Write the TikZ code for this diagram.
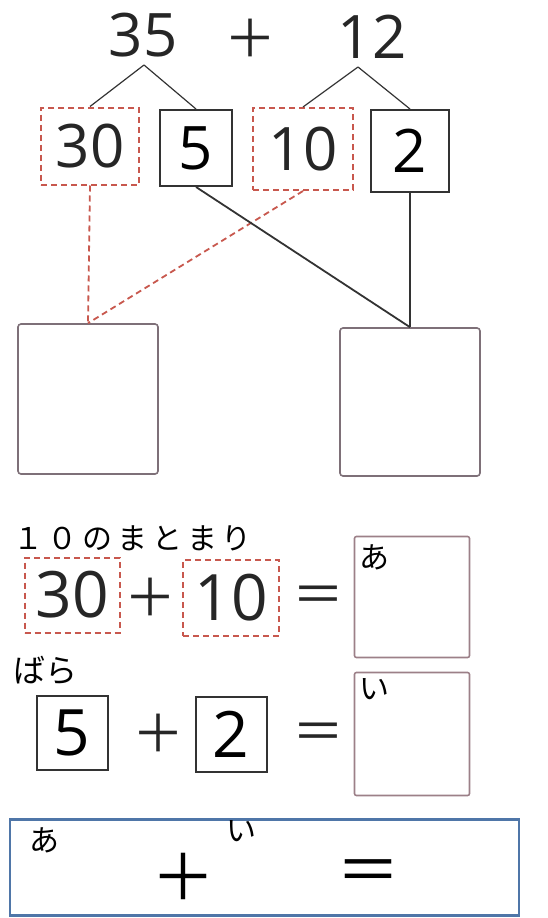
\documentclass[tikz,border=0pt]{standalone}
\usepackage{fontspec}
\setmainfont{Open Sans}
\newfontfamily\jp{Noto Sans CJK JP}
\definecolor{reddash}{HTML}{C8584E}
\definecolor{boxgray}{HTML}{7E7078}
\definecolor{anspink}{HTML}{9C8088}
\definecolor{frameblue}{HTML}{4F76A8}
\tikzset{
  num/.style={inner sep=0pt, font=\fontsize{60}{62}\selectfont, text=black!85},
  numbox/.style={draw=black!80, line width=2pt, inner sep=0pt},
  redbox/.style={draw=reddash, dash pattern=on 6pt off 4pt, line width=2pt, inner sep=0pt},
  bigbox/.style={draw=boxgray, line width=1.6pt, rounded corners=3pt, inner sep=0pt},
  ansbox/.style={draw=anspink, line width=1.6pt, rounded corners=2pt, inner sep=0pt},
  conn/.style={line width=1.2pt, draw=black!80},
  redconn/.style={line width=1.8pt, draw=reddash, dash pattern=on 6pt off 4pt},
  op/.style={inner sep=0pt, font=\jp\fontsize{52}{54}\selectfont, text=black!85},
  kana/.style={inner sep=0pt, font=\jp\fontsize{30}{32}\selectfont},
}
\begin{document}
\begin{tikzpicture}[x=1pt,y=-1pt]
\useasboundingbox (0,0) rectangle (547,918);
\fill[white] (0,0) rectangle (547,918);
% top expression
\node[num] (n35) at (143,35) {35};
\node[op] (p0) at (250,38) {＋};
\node[num] (n12) at (372,37) {12};
\coordinate (a35) at (144,65);
\coordinate (a12) at (358,67);
% boxes row
\node[redbox, minimum width=98pt, minimum height=77pt] (b30) at (90,146) {};
\node[num] at (b30) {30};
\node[numbox, minimum width=72pt, minimum height=76pt] (b5) at (196,148) {\fontsize{60}{62}\selectfont 5};
\node[redbox, minimum width=100pt, minimum height=82pt] (b10) at (303,149) {};
\node[num] at (b10) {10};
\node[numbox, minimum width=78pt, minimum height=82pt] (b2) at (410,151) {\fontsize{60}{62}\selectfont 2};
\draw[conn] (a35) -- (b30.north);
\draw[conn] (a35) -- (b5.north);
\draw[conn] (a12) -- (b10.north);
\draw[conn] (a12) -- (b2.north);
% big boxes
\node[bigbox, minimum width=140pt, minimum height=150pt] (L) at (88,399) {};
\node[bigbox, minimum width=140pt, minimum height=148pt] (R) at (410,402) {};
\draw[redconn] (b30.south) -- (L.north);
\draw[redconn] (b10.south) -- (L.north);
\draw[conn, line width=1.8pt] (b5.south) -- (R.north);
\draw[conn, line width=1.8pt] (b2.south) -- (R.north);
% 10 no matomari
\node[anchor=west, inner sep=0pt, font=\jp\fontsize{30}{32}\selectfont\addfontfeatures{LetterSpace=16}] (t1) at (13,538) {１０のまとまり};
\node[redbox, minimum width=95pt, minimum height=75pt] (c30) at (72,595) {};
\node[num, font=\fontsize{64}{66}\selectfont] at (c30) {30};
\node[op] (p1) at (150,597) {＋};
\node[redbox, minimum width=96pt, minimum height=76pt] (c10) at (231,598) {};
\node[num, font=\fontsize{64}{66}\selectfont] at (c10) {10};
\node[op] (e1) at (318,600) {＝};
\node[ansbox, minimum width=115pt, minimum height=121pt] (ansA) at (412,597) {};
\node[kana] (kA) at (374,557) {あ};
% bara
\node[anchor=west, inner sep=0pt, font=\jp\fontsize{32}{34}\selectfont\addfontfeatures{LetterSpace=2}] (t2) at (13,670) {ばら};
\node[numbox, minimum width=71pt, minimum height=74pt] (c5) at (72,733) {\fontsize{64}{66}\selectfont 5};
\node[op] (p2) at (158,733) {＋};
\node[numbox, minimum width=71pt, minimum height=75pt] (c2) at (231,734) {\fontsize{64}{66}\selectfont 2};
\node[op] (e2) at (318,737) {＝};
\node[ansbox, minimum width=115pt, minimum height=123pt] (ansI) at (412,734) {};
\node[kana] (kI) at (374,689) {い};
% bottom frame
\node[draw=frameblue, line width=2.4pt, minimum width=509pt, minimum height=96pt, inner sep=0pt] (F) at (264.5,867.5) {};
\node[kana] (kA2) at (44,840) {あ};
\node[kana] (kI2) at (241,831) {い};
\node[inner sep=0pt, font=\jp\fontsize{64}{66}\selectfont] (p3) at (183,877) {＋};
\node[inner sep=0pt, font=\jp\fontsize{64}{66}\selectfont] (e3) at (368,877) {＝};
\end{tikzpicture}
\end{document}
